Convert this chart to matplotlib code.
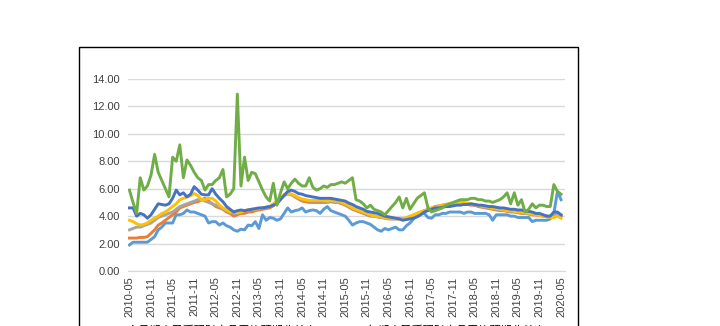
import matplotlib
matplotlib.use("Agg")
import matplotlib.pyplot as plt
from matplotlib.patches import Rectangle
import numpy as np
import pandas as pd

plt.rcParams["font.family"] = ["Liberation Sans", "Noto Sans CJK SC", "DejaVu Sans"]

# 月度数据 2010-05 ~ 2020-05（%）
months = pd.period_range("2010-05", "2020-05", freq="M").strftime("%Y-%m").tolist()

s1 = [1.9, 2.1, 2.1, 2.1, 2.1, 2.1, 2.3, 2.5,
      3.0, 3.2, 3.5, 3.5, 3.5, 4.1, 4.1, 4.2, 4.45, 4.3, 4.3, 4.2,
      4.1, 4.0, 3.5, 3.6, 3.6, 3.35, 3.5, 3.3, 3.2, 3.0, 2.9, 3.05,
      3.0, 3.35, 3.3, 3.6, 3.1, 4.1, 3.7, 3.9, 3.85, 3.7, 3.8, 4.2,
      4.6, 4.3, 4.4, 4.45, 4.6, 4.3, 4.4, 4.45, 4.4, 4.2, 4.5, 4.7,
      4.4, 4.3, 4.2, 4.1, 4.0, 3.7, 3.35, 3.5, 3.6, 3.6, 3.5, 3.4,
      3.2, 3.0, 2.9, 3.1, 3.0, 3.1, 3.2, 3.0, 3.0, 3.3, 3.5, 3.8,
      4.1, 4.2, 4.2, 3.9, 3.85, 4.1, 4.1, 4.2, 4.2, 4.3, 4.3, 4.3,
      4.3, 4.2, 4.3, 4.3, 4.2, 4.2, 4.2, 4.2, 4.1, 3.7, 4.1, 4.1,
      4.1, 4.1, 4.0, 4.0, 3.9, 3.9, 3.9, 3.9, 3.6, 3.7, 3.7, 3.7,
      3.7, 3.8, 4.2, 5.8, 5.2]

s2 = [2.4, 2.4, 2.4, 2.45, 2.45, 2.5, 2.75, 3.0,
      3.35, 3.5, 3.7, 3.9, 4.1, 4.3, 4.6, 4.7, 4.8, 4.9, 5.0, 5.05,
      5.2, 5.3, 5.1, 4.9, 4.7, 4.6, 4.5, 4.3, 4.2, 4.0, 4.1, 4.2,
      4.2, 4.3, 4.3, 4.4, 4.45, 4.5, 4.55, 4.6, 4.75, 5.0, 5.3, 5.55,
      5.7, 5.6, 5.4, 5.25, 5.1, 5.05, 5.0, 5.0, 5.0, 5.0, 5.0, 5.0,
      5.05, 5.0, 5.0, 4.9, 4.8, 4.65, 4.5, 4.4, 4.3, 4.2, 4.1, 4.0,
      4.0, 3.95, 3.9, 3.85, 3.8, 3.8, 3.8, 3.8, 3.8, 3.85, 3.9, 4.05,
      4.2, 4.3, 4.4, 4.5, 4.6, 4.7, 4.75, 4.8, 4.85, 4.9, 4.9, 4.9,
      4.9, 4.9, 4.85, 4.8, 4.8, 4.7, 4.65, 4.6, 4.55, 4.5, 4.45, 4.4,
      4.4, 4.35, 4.3, 4.3, 4.25, 4.2, 4.2, 4.15, 4.1, 4.1, 4.05, 4.0,
      4.0, 3.95, 4.1, 4.2, 4.0]

s3 = [3.0, 3.1, 3.2, 3.2, 3.3, 3.4, 3.5, 3.7,
      3.9, 4.0, 4.1, 4.2, 4.3, 4.5, 4.7, 4.8, 4.9, 5.0, 5.1, 5.2,
      5.2, 5.1, 5.0, 4.9, 4.8, 4.7, 4.5, 4.4, 4.3, 4.2, 4.2, 4.3,
      4.4, 4.45, 4.5, 4.5, 4.55, 4.6, 4.65, 4.7, 4.85, 5.1, 5.3, 5.5,
      5.6, 5.55, 5.45, 5.3, 5.2, 5.15, 5.1, 5.1, 5.1, 5.1, 5.1, 5.05,
      5.1, 5.05, 5.0, 4.95, 4.85, 4.7, 4.55, 4.45, 4.35, 4.25, 4.15, 4.05,
      4.0, 3.95, 3.9, 3.9, 3.85, 3.8, 3.8, 3.8, 3.8, 3.85, 3.95, 4.05,
      4.15, 4.25, 4.35, 4.45, 4.55, 4.65, 4.7, 4.75, 4.8, 4.85, 4.9, 4.9,
      4.9, 4.9, 4.9, 4.85, 4.8, 4.75, 4.7, 4.65, 4.6, 4.55, 4.5, 4.45,
      4.45, 4.4, 4.35, 4.35, 4.3, 4.25, 4.2, 4.2, 4.15, 4.1, 4.1, 4.05,
      4.0, 4.0, 4.1, 4.15, 4.0]

s4 = [3.7, 3.6, 3.45, 3.35, 3.4, 3.5, 3.7, 3.85,
      4.0, 4.2, 4.3, 4.5, 4.7, 4.9, 5.2, 5.3, 5.4, 5.5, 5.65, 5.5,
      5.2, 5.2, 5.3, 5.3, 5.1, 4.8, 4.6, 4.45, 4.3, 4.3, 4.25, 4.3,
      4.4, 4.45, 4.5, 4.5, 4.55, 4.6, 4.65, 4.7, 4.9, 5.1, 5.35, 5.55,
      5.65, 5.6, 5.5, 5.35, 5.25, 5.2, 5.15, 5.15, 5.15, 5.15, 5.15, 5.1,
      5.15, 5.1, 5.1, 5.0, 4.9, 4.75, 4.6, 4.5, 4.4, 4.3, 4.2, 4.1,
      4.0, 4.0, 3.95, 3.9, 3.85, 3.85, 3.8, 3.8, 3.8, 3.9, 4.0, 4.1,
      4.2, 4.3, 4.4, 4.5, 4.6, 4.65, 4.7, 4.8, 4.85, 4.9, 4.95, 5.0,
      5.0, 5.0, 4.95, 4.9, 4.85, 4.8, 4.75, 4.7, 4.65, 4.6, 4.55, 4.5,
      4.45, 4.4, 4.4, 4.35, 4.3, 4.3, 4.25, 4.2, 4.15, 4.1, 4.05, 4.0,
      3.95, 3.9, 3.9, 4.0, 3.85]

s5 = [4.6, 4.6, 4.0, 4.2, 4.1, 3.85, 4.1, 4.5,
      4.9, 4.85, 4.8, 4.9, 5.3, 5.9, 5.55, 5.7, 5.4, 5.6, 6.15, 5.9,
      5.6, 5.55, 5.55, 6.0, 5.6, 5.3, 5.05, 4.7, 4.5, 4.3, 4.4, 4.45,
      4.4, 4.45, 4.5, 4.55, 4.6, 4.6, 4.65, 4.7, 4.8, 4.9, 5.2, 5.5,
      5.8, 5.9, 5.8, 5.65, 5.6, 5.5, 5.45, 5.4, 5.35, 5.3, 5.3, 5.3,
      5.3, 5.25, 5.2, 5.15, 5.1, 4.95, 4.85, 4.7, 4.6, 4.5, 4.35, 4.3,
      4.25, 4.2, 4.1, 4.0, 3.95, 3.9, 3.85, 3.8, 3.7, 3.75, 3.8, 3.85,
      3.95, 4.1, 4.3, 4.4, 4.5, 4.6, 4.6, 4.65, 4.7, 4.7, 4.75, 4.8,
      4.8, 4.85, 4.85, 4.9, 4.85, 4.8, 4.8, 4.75, 4.7, 4.7, 4.65, 4.6,
      4.6, 4.55, 4.5, 4.5, 4.45, 4.45, 4.4, 4.35, 4.3, 4.2, 4.2, 4.1,
      4.0, 4.0, 4.3, 4.3, 4.1]

s6 = [5.9, 5.0, 4.2, 6.8, 5.9, 6.2, 7.0, 8.5,
      7.2, 6.6, 6.0, 5.4, 8.3, 8.0, 9.2, 6.8, 8.1, 7.7, 7.2, 6.8,
      6.6, 5.9, 6.3, 6.3, 6.6, 6.8, 7.4, 5.4, 5.6, 6.0, 12.9, 6.2,
      8.3, 6.6, 7.2, 7.1, 6.5, 5.9, 5.4, 5.1, 6.4, 4.8, 5.7, 6.5,
      6.0, 6.4, 6.7, 6.4, 6.2, 6.2, 6.8, 6.1, 5.9, 6.0, 6.2, 6.1,
      6.3, 6.3, 6.4, 6.5, 6.4, 6.6, 6.8, 5.2, 5.1, 4.9, 4.6, 4.8,
      4.5, 4.4, 4.3, 4.1, 4.4, 4.7, 5.0, 5.4, 4.6, 5.3, 4.5, 4.9,
      5.3, 5.5, 5.7, 4.6, 4.3, 4.4, 4.5, 4.6, 4.8, 4.9, 5.0, 5.1,
      5.2, 5.2, 5.2, 5.3, 5.3, 5.2, 5.2, 5.1, 5.1, 5.0, 5.1, 5.2,
      5.4, 5.7, 4.9, 5.7, 4.8, 5.2, 4.3, 4.5, 4.9, 4.6, 4.8, 4.8,
      4.7, 4.7, 6.3, 5.8, 5.6]

names = [
    "1个月期人民币理财产品平均预期收益率",
    "3个月期人民币理财产品平均预期收益率",
    "6个月期人民币理财产品平均预期收益率",
    "1年期人民币理财产品平均预期收益率",
    "2年期人民币理财产品平均预期收益率",
    "1周期人民币理财产品平均预期收益率",
]
colors = ["#5B9BD5", "#ED7D31", "#A5A5A5", "#FFC000", "#4472C4", "#70AD47"]
series = [s1, s2, s3, s4, s5, s6]

fig = plt.figure(figsize=(7.2, 3.26), dpi=100)
fig.patch.set_facecolor("white")

# 图表外框（底边在画面以外）
fig.patches.append(Rectangle((79 / 720, -0.2), 499 / 720, 1.2 - 47 / 326,
                             transform=fig.transFigure, fill=False,
                             edgecolor="black", linewidth=1.0))

ax = fig.add_axes([128 / 720, 55 / 326, 437 / 720, 192 / 326])
x = np.arange(len(months))
for s, c, n in zip(series, colors, names):
    ax.plot(x, s, color=c, linewidth=2.1, label=n, solid_joinstyle="round")

ax.set_xlim(-0.4, 121.1)
ax.set_ylim(0, 14)
ax.set_yticks(np.arange(0, 15, 2))
ax.set_yticklabels([f"{v:.2f}" for v in np.arange(0, 15, 2)])
ax.set_xticks(x[::6])
ax.set_xticklabels(months[::6], rotation=90)
ax.tick_params(axis="both", length=0, labelsize=8, colors="#404040")
ax.tick_params(axis="y", pad=6)
ax.tick_params(axis="x", pad=4)
ax.grid(axis="y", color="#d9d9d9", linewidth=1.0)
ax.set_axisbelow(True)
for side in ["top", "right", "left"]:
    ax.spines[side].set_visible(False)
ax.spines["bottom"].set_color("#d9d9d9")

fig.legend(*ax.get_legend_handles_labels(), loc="upper left",
           bbox_to_anchor=(86 / 720, 5 / 326), ncol=2, frameon=False,
           prop={"family": ["Noto Sans CJK SC", "DejaVu Sans"], "size": 8},
           handlelength=2.0, columnspacing=1.2, borderaxespad=0)

fig.savefig("out.png", dpi=100, facecolor="white")
